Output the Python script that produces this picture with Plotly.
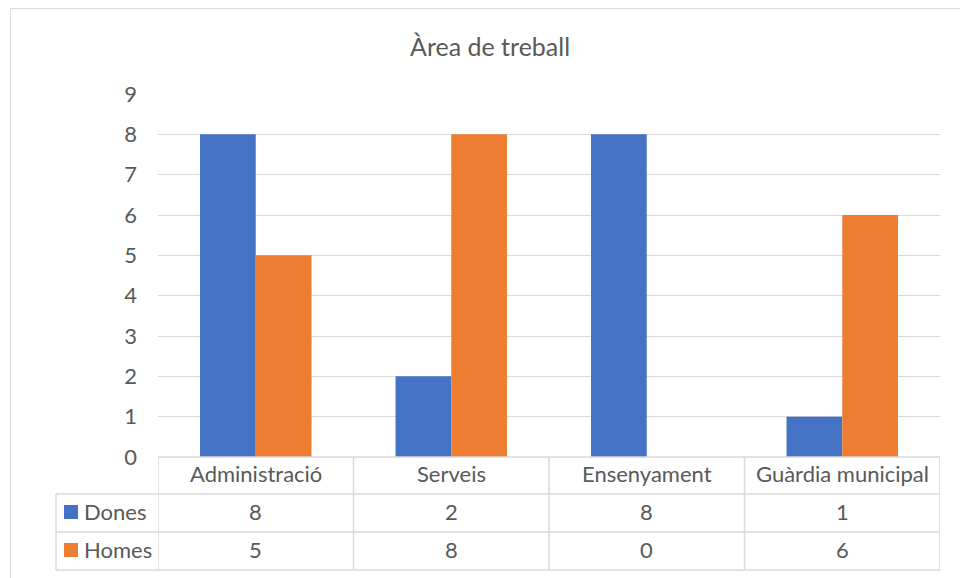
import plotly.graph_objects as go

categories = ["Administració", "Serveis", "Ensenyament", "Guàrdia municipal"]
dones = [8, 2, 8, 1]
homes = [5, 8, 0, 6]
series_names = ["Dones", "Homes"]
y_ticks = [0, 1, 2, 3, 4, 5, 6, 7, 8, 9]
title = "Àrea de treball"

W, H = 960, 578
BLUE, ORANGE = "#4472C4", "#ED7D31"
GRID = "#d9d9d9"
TXT = "#595959"
FONT = "Lato"
FS = 22

def px(x):
    return x / W

def py(y):
    return 1 - y / H

PL, PR, PT, PB = 158, 940, 94, 457
ROW1, ROW2, ROW3 = 494, 532, 570

fig = go.Figure()
fig.add_trace(go.Bar(x=categories, y=dones, name=series_names[0], marker_color=BLUE,
                     marker_line_width=0))
fig.add_trace(go.Bar(x=categories, y=homes, name=series_names[1], marker_color=ORANGE,
                     marker_line_width=0))

shapes = []
annotations = []
# outer chart border (left/top visible)
shapes.append(dict(type="rect", xref="paper", yref="paper", x0=px(10.5), x1=px(1000),
                   y0=py(640), y1=py(8.5), line=dict(color=GRID, width=1), layer="below"))

# table lines
line = dict(color=GRID, width=1.5)
n = len(categories)
for i in range(n + 1):
    shapes.append(dict(type="line", xref="x", yref="paper", x0=i - 0.5, x1=i - 0.5,
                       y0=py(PB), y1=py(ROW3), line=line))
shapes.append(dict(type="line", xref="paper", yref="paper", x0=px(PL), x1=px(PR),
                   y0=py(PB), y1=py(PB), line=line))
for yy in (ROW1, ROW2, ROW3):
    shapes.append(dict(type="line", xref="paper", yref="paper", x0=px(56), x1=px(PR),
                       y0=py(yy), y1=py(yy), line=line))
shapes.append(dict(type="line", xref="paper", yref="paper", x0=px(56), x1=px(56),
                   y0=py(ROW1), y1=py(ROW3), line=line))

tf = dict(family=FONT, size=FS, color=TXT)
row_centers = [(PB + ROW1) / 2 - 2, (ROW1 + ROW2) / 2 - 2, (ROW2 + ROW3) / 2 - 2]
for i, c in enumerate(categories):
    annotations.append(dict(x=c, xref="x", y=py(row_centers[0]), yref="paper", text=c,
                            showarrow=False, font=tf, xanchor="center", yanchor="middle"))
    annotations.append(dict(x=c, xref="x", y=py(row_centers[1]), yref="paper", text=str(dones[i]),
                            showarrow=False, font=tf, xanchor="center", yanchor="middle"))
    annotations.append(dict(x=c, xref="x", y=py(row_centers[2]), yref="paper", text=str(homes[i]),
                            showarrow=False, font=tf, xanchor="center", yanchor="middle"))

for k, (nm, col) in enumerate(zip(series_names, [BLUE, ORANGE])):
    yc = row_centers[k + 1] + 1
    shapes.append(dict(type="rect", xref="paper", yref="paper", x0=px(64), x1=px(78),
                       y0=py(yc + 7), y1=py(yc - 7), fillcolor=col, line=dict(width=0)))
    annotations.append(dict(x=px(82), xref="paper", y=py(yc - 1), yref="paper", text=nm,
                            showarrow=False, font=tf, xanchor="left", yanchor="middle"))

annotations.append(dict(x=px(490), xref="paper", y=py(46), yref="paper", text=title,
                        showarrow=False, font=dict(family=FONT, size=25, color=TXT),
                        xanchor="center", yanchor="middle"))

fig.update_layout(
    width=W, height=H, autosize=False,
    margin=dict(l=0, r=0, t=0, b=0, pad=0),
    paper_bgcolor="white", plot_bgcolor="white",
    barmode="group", bargap=0.43, bargroupgap=0,
    showlegend=False,
    font=dict(family=FONT, color=TXT, size=FS),
    xaxis=dict(domain=[px(PL), px(PR)], showticklabels=False, showgrid=False,
               zeroline=False, showline=False, ticks="", range=[-0.5, n - 0.5],
               automargin=False),
    yaxis=dict(domain=[py(PB), py(PT)], range=[0, 9], tickvals=y_ticks,
               showgrid=True, gridcolor=GRID, gridwidth=1, zeroline=False,
               showline=False, ticks="", ticklabelstandoff=20, automargin=False,
               tickfont=dict(family=FONT, size=FS, color=TXT)),
    shapes=shapes, annotations=annotations,
)

fig.write_html("out.html", config={"displayModeBar": False},
               post_script="document.body.style.margin='0';")
